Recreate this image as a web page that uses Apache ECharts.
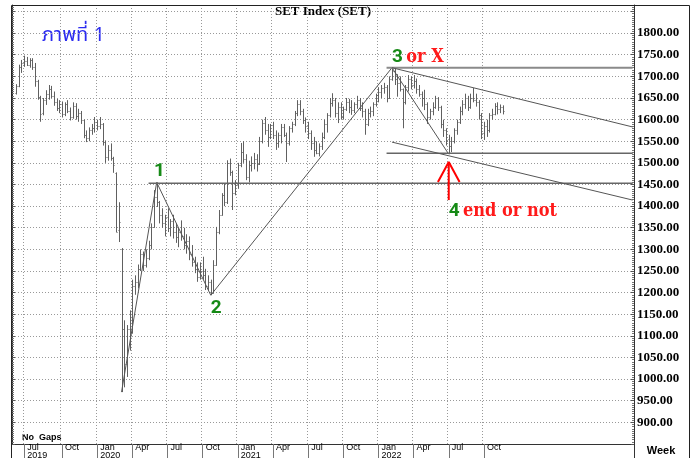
<!DOCTYPE html>
<html>
<head>
<meta charset="utf-8">
<script src="https://cdn.jsdelivr.net/npm/echarts@6/dist/echarts.min.js"></script>
<style>html,body{margin:0;padding:0;background:#fff}#c{width:694px;height:458px}</style>
</head>
<body>
<div id="c"></div>
<script>
// ---------- DATA ----------
const firstWeek = '2019-06-03';     // first category (Monday) on the x axis
const weekCount = 230;              // weekly categories shown on the axis
const lastLabelWeek = '2022-12-31'; // date labels / grid stop after the data
const dataStart = '2019-06-10';     // first weekly bar
const opens  = [1662,1678,1722,1730,1735,1727,1738,1722,1690,1652,1615,1645,1660,1670,1655,1640,1628,1635,1612,1635,1620,1605,1632,1608,1615,1598,1565,1558,1575,1580,1595,1585,1590,1548,1514,1530,1512,1476,1345,1300,1115,1035,1115,1110,1215,1225,1255,1290,1265,1280,1310,1352,1420,1410,1380,1360,1375,1350,1365,1340,1328,1340,1330,1310,1320,1290,1270,1255,1235,1250,1240,1215,1225,1200,1265,1340,1380,1425,1410,1500,1478,1430,1449,1495,1525,1510,1467,1495,1500,1510,1497,1550,1592,1575,1560,1587,1565,1545,1565,1583,1565,1545,1580,1590,1615,1635,1620,1600,1585,1570,1545,1530,1522,1540,1560,1590,1610,1638,1645,1615,1630,1605,1625,1640,1630,1623,1635,1645,1628,1620,1590,1615,1620,1635,1658,1665,1672,1675,1650,1695,1712,1695,1685,1670,1640,1675,1695,1680,1690,1670,1660,1650,1635,1605,1620,1630,1650,1630,1590,1575,1555,1540,1550,1575,1595,1620,1635,1650,1630,1650,1645,1640,1610,1570,1585,1575,1610,1612,1632,1625,1630];
const highs  = [1682,1727,1738,1748,1745,1742,1742,1731,1692,1655,1650,1668,1680,1678,1665,1648,1645,1642,1640,1645,1628,1640,1638,1625,1620,1600,1575,1582,1590,1606,1600,1606,1592,1552,1541,1545,1514,1478,1409,1303,1136,1125,1159,1230,1240,1265,1300,1295,1300,1320,1360,1437,1455,1412,1395,1380,1395,1370,1380,1360,1350,1367,1350,1335,1330,1310,1283,1270,1270,1283,1255,1240,1230,1275,1352,1391,1430,1453,1506,1510,1482,1460,1500,1546,1550,1520,1505,1515,1523,1520,1560,1600,1606,1590,1590,1595,1575,1570,1590,1590,1570,1585,1595,1620,1645,1645,1625,1605,1595,1575,1560,1550,1545,1570,1600,1615,1650,1661,1650,1640,1640,1630,1650,1648,1645,1640,1655,1650,1640,1625,1625,1630,1640,1660,1675,1680,1685,1680,1700,1720,1718,1705,1700,1672,1680,1703,1700,1703,1695,1680,1665,1669,1640,1625,1640,1655,1652,1632,1600,1580,1565,1560,1580,1600,1630,1645,1660,1655,1660,1673,1660,1645,1615,1595,1600,1615,1625,1638,1640,1635,1633];
const lows   = [1658,1675,1708,1722,1724,1720,1715,1676,1646,1595,1610,1634,1646,1650,1632,1620,1615,1605,1608,1615,1598,1602,1600,1595,1590,1557,1548,1550,1565,1570,1575,1578,1540,1500,1505,1505,1477,1340,1317,970,981,1005,1066,1105,1195,1210,1250,1250,1258,1275,1300,1350,1398,1360,1350,1330,1340,1330,1325,1315,1305,1320,1300,1290,1275,1260,1245,1225,1230,1230,1206,1205,1194,1198,1262,1335,1378,1400,1405,1470,1391,1425,1440,1490,1500,1460,1455,1480,1485,1480,1495,1545,1565,1537,1555,1555,1530,1535,1545,1560,1502,1540,1570,1585,1608,1610,1590,1570,1555,1530,1514,1520,1515,1530,1555,1570,1605,1630,1605,1592,1600,1600,1620,1615,1611,1615,1625,1620,1605,1565,1585,1605,1608,1630,1640,1650,1660,1640,1648,1690,1680,1653,1665,1580,1635,1665,1670,1672,1660,1653,1630,1622,1590,1600,1610,1625,1620,1580,1560,1540,1520,1525,1545,1565,1590,1610,1625,1620,1625,1640,1630,1600,1555,1553,1560,1570,1600,1610,1612,1615,1612];
const closes = [1678,1722,1730,1735,1727,1738,1722,1690,1652,1612,1645,1660,1670,1655,1640,1628,1635,1612,1635,1620,1605,1632,1608,1615,1598,1565,1558,1575,1580,1595,1585,1590,1548,1514,1530,1512,1495,1341,1364,1115,1035,1115,1110,1215,1225,1255,1290,1265,1280,1310,1352,1420,1410,1380,1360,1375,1350,1365,1340,1328,1340,1330,1310,1320,1290,1270,1255,1235,1250,1240,1215,1225,1198,1265,1340,1380,1425,1410,1500,1480,1430,1449,1495,1525,1510,1467,1495,1500,1510,1497,1550,1592,1575,1560,1587,1565,1545,1565,1583,1565,1545,1580,1590,1615,1635,1620,1600,1585,1570,1545,1530,1522,1540,1560,1590,1610,1638,1645,1615,1630,1605,1625,1640,1630,1623,1635,1645,1628,1620,1590,1615,1620,1635,1658,1665,1672,1675,1650,1695,1712,1695,1685,1670,1640,1675,1695,1680,1690,1670,1660,1650,1635,1605,1620,1630,1650,1630,1590,1575,1550,1540,1550,1575,1595,1620,1635,1650,1630,1650,1645,1640,1610,1570,1585,1575,1610,1612,1632,1625,1630,1620.84];

// wave count points (week, value)
const waveWeeks  = ['2020-03-09','2020-06-08','2020-10-26','2022-02-07','2022-07-04'];
const waveValues = [970, 1455, 1194, 1720, 1520];
// horizontal levels
const levelValues = [1453, 1720, 1522];
const levelStart  = ['2020-05-18','2022-01-24','2022-01-24'];
// channel lines [startWeek, startValue, endValue at right edge]
const channelUpper = ['2022-02-07', 1720, 1583];
const channelLower = ['2022-02-07', 1548, 1414];
// arrow under point 4
const arrowWeek = '2022-07-04', arrowTip = 1502, arrowBase = 1414, arrowArm = 1456;
const arrowArmWeeks = ['2022-06-06','2022-08-01'];
const lastPrice = 1620.84;
// wave labels
const waveLabelWeeks  = ['2020-06-15','2020-11-09','2022-02-07','2022-07-04'];
const waveLabelValues = [1481, 1164, 1745, 1389];
const waveLabelNums   = ['1','2','3','4'];
const waveLabelTexts  = ['','','or X','end or not'];
// y tick labels
const yMin = 850, yMax = 1865, yStep = 50, yLabelMin = 900, yLabelMax = 1800;
const monthNames = ['Jan','Feb','Mar','Apr','May','Jun','Jul','Aug','Sep','Oct','Nov','Dec'];

// ---------- BUILD ----------
function addDays(s, n){ const d = new Date(s+'T00:00:00Z'); d.setUTCDate(d.getUTCDate()+n); return d.toISOString().slice(0,10); }
const weeks = []; for (let i=0;i<weekCount;i++) weeks.push(addDays(firstWeek, i*7));
const idx = s => weeks.indexOf(s);
const lastIdx = weekCount-1;
const start = idx(dataStart);
const ohlc = opens.map((o,i)=>[start+i, o, highs[i], lows[i], closes[i]]);

function isQuarterStart(i){
  const d = weeks[i]; if (d > lastLabelWeek) return false;
  const m = +d.slice(5,7)-1; const day = +d.slice(8,10);
  return day<=7 && m%3===0;
}
let firstLabel = -1; for (let i=0;i<weekCount;i++){ if (isQuarterStart(i)) { firstLabel=i; break; } }

const chart = echarts.init(document.getElementById('c'), null, {renderer:'canvas'});
const dark = '#555';
const ySerif = '"Liberation Serif","Times New Roman",serif';
const lineSeries = (data, color, width) => ({type:'line', data, symbol:'none', silent:true, animation:false,
  lineStyle:{color, width}, z:3});

const option = {
  animation:false,
  grid:{left:12, right:60, top:5, bottom:14, containLabel:false, outerBoundsMode:'none'},
  xAxis:{type:'category', data:weeks, boundaryGap:true,
    axisLine:{show:true, lineStyle:{color:'#333', width:1}},
    axisTick:{show:true, alignWithLabel:true, length:14, interval:(i)=>isQuarterStart(i), lineStyle:{color:'#777'}},
    axisLabel:{show:true, interval:(i)=>isQuarterStart(i), align:'left', margin:0, padding:[0,0,0,3],
      formatter:(v, i)=>{ const m = +v.slice(5,7)-1; const y = v.slice(0,4);
        return (m===0 || i===firstLabel) ? '{m|'+monthNames[m]+'}\n{y|'+y+'}' : '{m|'+monthNames[m]+'}'; },
      rich:{m:{fontSize:9, lineHeight:8, fontFamily:'"Liberation Sans",Arial,sans-serif', color:'#000'},
            y:{fontSize:9, lineHeight:8, fontFamily:'"Liberation Sans",Arial,sans-serif', color:'#000'}}},
    splitLine:{show:true, interval:(i)=>isQuarterStart(i), lineStyle:{color:'#999', type:[1,2], width:1}}
  },
  yAxis:[
    {type:'value', position:'right', min:yMin, max:yMax, interval:yStep,
      axisLine:{show:true, lineStyle:{color:'#333'}},
      axisTick:{show:true, inside:true, length:3, lineStyle:{color:'#555'}},
      minorTick:{show:true, splitNumber:10, length:2, lineStyle:{color:'#777'}},
      axisLabel:{show:true, margin:3, color:'#000', fontFamily:ySerif, fontWeight:'bold', fontSize:13,
        formatter:(v)=> (v>=yLabelMin && v<=yLabelMax && v%yStep===0) ? v.toFixed(2) : ''},
      splitLine:{show:true, lineStyle:{color:'#999', type:[1,2], width:1}}},
    {type:'value', position:'left', min:yMin, max:yMax, interval:yStep,
      axisLine:{show:true, lineStyle:{color:'#333'}},
      axisTick:{show:true, inside:true, length:3, lineStyle:{color:'#555'}},
      minorTick:{show:true, splitNumber:10, length:2, lineStyle:{color:'#777'}},
      axisLabel:{show:false}, splitLine:{show:false}}
  ],
  series:[
    {type:'custom', name:'SET', data:ohlc, encode:{x:0, y:[1,2,3,4]}, silent:true, z:2,
      renderItem:(params, api)=>{
        const x = api.value(0);
        const h = api.coord([x, api.value(2)]), l = api.coord([x, api.value(3)]);
        const o = api.coord([x, api.value(1)]), c = api.coord([x, api.value(4)]);
        const px = Math.round(h[0]) + 0.5;
        const w = Math.max(1, Math.round(api.size([1,0])[0]*0.45));
        const st = {stroke:'#606060', lineWidth:1};
        return {type:'group', children:[
          {type:'line', shape:{x1:px, y1:h[1], x2:px, y2:l[1]}, style:st},
          {type:'line', shape:{x1:px-w, y1:Math.round(o[1])+0.5, x2:px, y2:Math.round(o[1])+0.5}, style:st},
          {type:'line', shape:{x1:px, y1:Math.round(c[1])+0.5, x2:px+w, y2:Math.round(c[1])+0.5}, style:st}
        ]};
      }},
    // wave lines
    lineSeries(waveWeeks.map((w,i)=>[idx(w), waveValues[i]]), dark, 1),
    // horizontal levels
    ...levelValues.map((v,i)=>lineSeries([[idx(levelStart[i]), v],[lastIdx, v]], i===1 ? '#8a8a8a' : '#666', i===1 ? 2 : 1.5)),
    // channel
    lineSeries([[idx(channelUpper[0]), channelUpper[1]],[lastIdx, channelUpper[2]]], dark, 1),
    lineSeries([[idx(channelLower[0]), channelLower[1]],[lastIdx, channelLower[2]]], dark, 1),
    // arrow
    lineSeries([[idx(arrowWeek), arrowBase],[idx(arrowWeek), arrowTip]], '#ff0000', 2),
    lineSeries([[idx(arrowArmWeeks[0]), arrowArm],[idx(arrowWeek), arrowTip],[idx(arrowArmWeeks[1]), arrowArm]], '#ff0000', 2),
    // last price label
    {type:'line', data:[], silent:true,
      markLine:{silent:true, symbol:'none', animation:false, lineStyle:{opacity:0},
        data:[{yAxis:lastPrice}],
        label:{show:true, position:'end', distance:1, formatter:()=>lastPrice.toFixed(2),
          backgroundColor:'#000', color:'#fff', fontFamily:ySerif, fontWeight:'bold', fontSize:13, padding:[1,2,0,2], lineHeight:13}}},
    // wave labels
    {type:'scatter', symbol:'circle', symbolSize:0, itemStyle:{color:'rgba(0,0,0,0)'}, silent:true, z:5,
      labelLayout:{hideOverlap:false},
      label:{show:true, position:'inside', opacity:1,
        formatter:(p)=>{ const i = p.dataIndex; return '{g|'+waveLabelNums[i]+'}' + (waveLabelTexts[i] ? ' {r|'+waveLabelTexts[i]+'}' : ''); },
        rich:{g:{color:'#168a16', fontFamily:'Roboto,"DejaVu Sans",sans-serif', fontWeight:'bold', fontSize:19},
              r:{color:'#ff1a1a', fontFamily:'"DejaVu Serif Condensed","DejaVu Serif",serif', fontWeight:'bold', fontSize:18}}},
      data:waveLabelWeeks.map((w,i)=>({value:[idx(w), waveLabelValues[i]], label:{align: waveLabelTexts[i] ? 'left' : 'center'}}))
    }
  ],
  graphic:[
    {type:'rect', shape:{x:11.5, y:5.5, width:678, height:470}, style:{fill:'none', stroke:'#222', lineWidth:1}, silent:true, z:10},
    {type:'line', shape:{x1:634.5, y1:444, x2:634.5, y2:458}, style:{stroke:'#333', lineWidth:1}, silent:true},
    {type:'text', x:323, y:12, style:{text:'SET Index (SET)', fill:'#000', font:'bold 13px "Liberation Serif", serif', textAlign:'center', textVerticalAlign:'middle'}},
    {type:'text', x:42, y:37, style:{text:'ภาพที่ 1', fill:'#2b2bf0', font:'20px "Noto Sans Thai","Noto Sans","DejaVu Sans",sans-serif', textAlign:'left', textVerticalAlign:'middle'}},
    {type:'text', x:22, y:438, style:{text:'No  Gaps', fill:'#000', font:'bold 9px "Liberation Sans",Arial,sans-serif', textAlign:'left', textVerticalAlign:'middle'}},
    {type:'text', x:661, y:451, style:{text:'Week', fill:'#000', font:'bold 11px "Liberation Sans",Arial,sans-serif', textAlign:'center', textVerticalAlign:'middle'}}
  ]
};
chart.setOption(option);
</script>
</body>
</html>
